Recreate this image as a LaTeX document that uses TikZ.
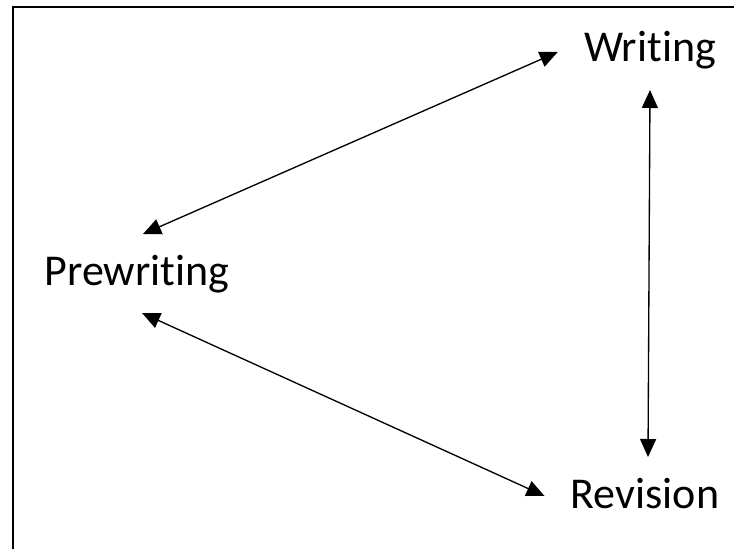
\documentclass[tikz,border=0pt]{standalone}
\usepackage{fontspec}
\setmainfont[Ligatures=NoCommon]{Carlito}
\usepackage{tikz}
\tikzset{stage/.style={inner sep=0pt, anchor=base, font=\fontsize{33}{40}\selectfont},
	link/.style={line width=1pt, {Triangle[length=13.5pt,width=12pt]}-{Triangle[length=13.5pt,width=12pt]}}}
\usetikzlibrary{positioning,arrows.meta}

\begin{document}
\begin{tikzpicture}[x=0.75pt,y=-0.75pt]
			\useasboundingbox (0,0) rectangle (734,549);
			\draw[line width=1.5pt] (13,549) -- (13,7) -- (734,7);
			% the three stages
			\node[stage] (writ) at (650,62) {Writing};
			\node[stage] (prew) at (137,285) {Prewriting};
			\node[stage] (rev) at (645,508) {Revision};
			% two-way links
			\draw[link] ([shift={(6,-51)}]prew.base) -- ([shift={(-26,-10)}]writ.base west);
			\draw[link] ([shift={(0,28)}]writ.base) -- ([shift={(3,-51)}]rev.base);
			\draw[link] ([shift={(5,28)}]prew.base) -- ([shift={(-26,-12)}]rev.base west);
		\end{tikzpicture}
\end{document}
